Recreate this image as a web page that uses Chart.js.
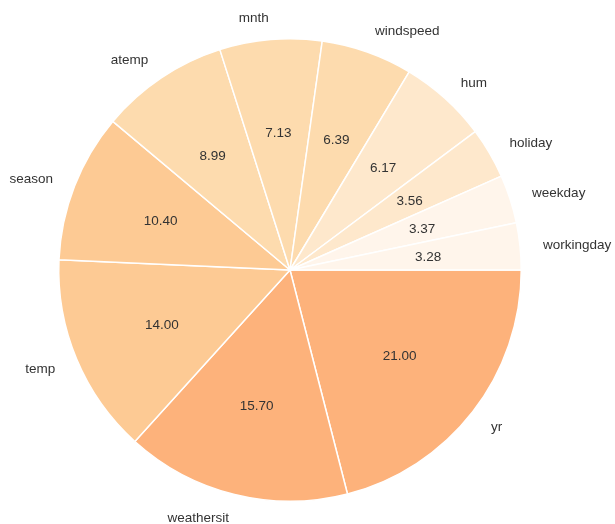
<!DOCTYPE html>
<html>
<head>
<meta charset="utf-8">
<script src="https://cdn.jsdelivr.net/npm/chart.js@4/dist/chart.umd.min.js"></script>
<style>
  html, body { margin: 0; padding: 0; background: #ffffff; }
  #wrap { width: 615px; height: 524px; position: relative; }
</style>
</head>
<body>
<div id="wrap"><canvas id="c" width="615" height="524"></canvas></div>
<script>
// Data in the reference's (counter-clockwise from 3 o'clock) order
const categories = ["workingday", "weekday", "holiday", "hum", "windspeed", "mnth", "atemp", "season", "temp", "weathersit", "yr"];
const values = [3.28, 3.37, 3.56, 6.17, 6.39, 7.13, 8.99, 10.40, 14.00, 15.70, 21.00];
const colors = ["#fff5eb", "#fff5eb", "#fee8cc", "#fee8cc", "#fddbae", "#fddbae", "#fddbae", "#fdca94", "#fdca94", "#fdb27b", "#fdb27b"];

// Chart.js draws clockwise, so reverse to mimic counter-clockwise drawing
const revLabels = categories.slice().reverse();
const revValues = values.slice().reverse();
const revColors = colors.slice().reverse();

const FONT = '13.5px "Liberation Sans", Arial, sans-serif';
const TEXT = '#333333';

const labelPlugin = {
  id: 'pieLabels',
  afterDatasetsDraw(chart) {
    const ctx = chart.ctx;
    const meta = chart.getDatasetMeta(0);
    ctx.save();
    ctx.font = FONT;
    ctx.fillStyle = TEXT;
    meta.data.forEach((arc, i) => {
      const p = arc.getProps(['x', 'y', 'startAngle', 'endAngle', 'outerRadius'], true);
      const mid = (p.startAngle + p.endAngle) / 2;
      const r = p.outerRadius;
      const cx = Math.cos(mid), cy = Math.sin(mid);
      // value labels
      ctx.textAlign = 'center';
      ctx.textBaseline = 'middle';
      ctx.fillText(revValues[i].toFixed(2), p.x + cx * r * 0.6, p.y + cy * r * 0.6 + 1.5);
      // category labels
      ctx.textAlign = cx >= 0 ? 'left' : 'right';
      ctx.fillText(revLabels[i], p.x + cx * r * 1.1, p.y + cy * r * 1.1 + 1.5);
    });
    ctx.restore();
  }
};

new Chart(document.getElementById('c'), {
  type: 'pie',
  data: {
    labels: revLabels,
    datasets: [{
      data: revValues,
      backgroundColor: revColors,
      borderColor: '#ffffff',
      borderWidth: 1.5,
      hoverOffset: 0
    }]
  },
  options: {
    responsive: false,
    animation: false,
    rotation: 90,
    layout: { padding: { left: 58, right: 93, top: 38, bottom: 22 } },
    plugins: {
      legend: { display: false },
      tooltip: { enabled: false }
    }
  },
  plugins: [labelPlugin]
});
</script>
</body>
</html>
